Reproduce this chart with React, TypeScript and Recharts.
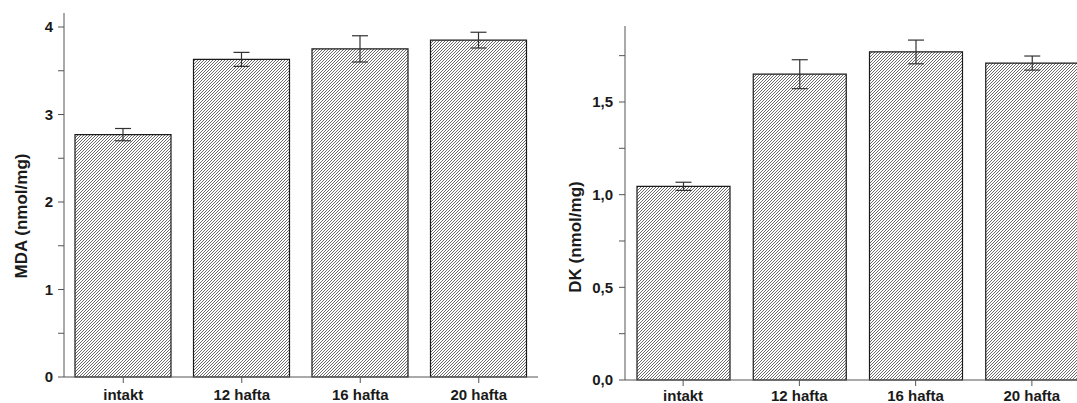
import { BarChart, Bar, XAxis, YAxis, ErrorBar } from 'recharts'

const categories = ['intakt', '12 hafta', '16 hafta', '20 hafta']

const mdaValues = [2.77, 3.63, 3.75, 3.85]
const mdaErrors = [0.07, 0.08, 0.15, 0.09]
const mdaTicks = [0, 0.5, 1, 1.5, 2, 2.5, 3, 3.5, 4]
const mdaLabels = [0, 1, 2, 3, 4]

const dkValues = [1.045, 1.65, 1.77, 1.71]
const dkErrors = [0.022, 0.078, 0.064, 0.038]
const dkTicks = [0, 0.25, 0.5, 0.75, 1, 1.25, 1.5, 1.75]
const dkLabels = [0, 0.5, 1, 1.5]

const mdaData = categories.map((name, i) => ({ name, value: mdaValues[i], err: mdaErrors[i] }))
const dkData = categories.map((name, i) => ({ name, value: dkValues[i], err: dkErrors[i] }))

const FONT = '"Liberation Sans", Arial, sans-serif'
const AXIS = '#555'
const INK = '#1a1a1a'

function Hatch({ id }: { id: string }) {
  return (
    <defs>
      <pattern id={id} patternUnits="userSpaceOnUse" width={3} height={3}>
        <rect width={3} height={3} fill="#fff" />
        <path d="M0,3 L3,0 M-1,1 L1,-1 M2,4 L4,2" stroke="#3c3c3c" strokeWidth={0.75} />
      </pattern>
    </defs>
  )
}

function makeYTick(labels: number[], comma: boolean) {
  return (props: any) => {
    const { x, y, payload } = props
    if (!labels.includes(payload.value)) return <g />
    const txt = comma ? payload.value.toFixed(1).replace('.', ',') : String(payload.value)
    return (
      <text x={x} y={y} dy="0.36em" textAnchor="end" fontFamily={FONT} fontWeight="bold" fontSize={15} fill={INK}>
        {txt}
      </text>
    )
  }
}

function XTick(props: any) {
  const { x, y, payload } = props
  return (
    <text x={x} y={y} dy="0.71em" textAnchor="middle" fontFamily={FONT} fontWeight="bold" fontSize={15} fill={INK}>
      {payload.value}
    </text>
  )
}

function AxisTitle(props: any) {
  const { viewBox, value, dx, dy } = props
  const vb = viewBox || { x: 0, y: 0, width: 0, height: 0 }
  const cx = vb.x + dx
  const cy = vb.y + vb.height / 2 + dy
  return (
    <text
      x={cx}
      y={cy}
      transform={`rotate(-90 ${cx} ${cy})`}
      textAnchor="middle"
      dominantBaseline="central"
      fontFamily={FONT}
      fontWeight="bold"
      fontSize={17}
      fill={INK}
    >
      {value}
    </text>
  )
}

export default function App() {
  return (
    <div
      style={{
        position: 'absolute',
        left: 0,
        top: 0,
        width: 1077,
        height: 403,
        overflow: 'hidden',
        background: '#fff',
      }}
    >
      <div style={{ position: 'absolute', left: 0, top: 0 }}>
        <BarChart width={540} height={403} data={mdaData} margin={{ top: 13, right: 2, left: 0, bottom: 0 }}>
          <Hatch id="hatchMda" />
          <XAxis
            xAxisId="minor"
            type="number"
            domain={[0, 4]}
            ticks={[1, 2, 3]}
            tick={false}
            axisLine={false}
            tickSize={4}
            height={0}
            stroke={AXIS}
          />
          <XAxis
            dataKey="name"
            height={26}
            tickSize={6}
            tickMargin={6}
            tick={<XTick />}
            stroke={AXIS}
            interval={0}
          />
          <YAxis
            width={64}
            domain={[0, 4.16]}
            ticks={mdaTicks}
            interval={0}
            tickSize={6}
            tickMargin={5}
            tick={makeYTick(mdaLabels, false)}
            stroke={AXIS}
            label={<AxisTitle value="MDA (nmol/mg)" dx={21} dy={21} />}
          />
          <Bar dataKey="value" fill="url(#hatchMda)" stroke={INK} strokeWidth={1.2} barSize={96} isAnimationActive={false}>
            <ErrorBar dataKey="err" width={8} stroke="#333" strokeWidth={1.2} />
          </Bar>
        </BarChart>
      </div>
      <div style={{ position: 'absolute', left: 540, top: 0 }}>
        <BarChart width={550} height={403} data={dkData} margin={{ top: 26, right: 0, left: 0, bottom: 0 }}>
          <Hatch id="hatchDk" />
          <XAxis
            xAxisId="minor"
            type="number"
            domain={[0, 4]}
            ticks={[1, 2, 3]}
            tick={false}
            axisLine={false}
            tickSize={4}
            height={0}
            stroke={AXIS}
          />
          <XAxis
            dataKey="name"
            height={23}
            tickSize={6}
            tickMargin={4}
            tick={<XTick />}
            stroke={AXIS}
            interval={0}
          />
          <YAxis
            width={85}
            domain={[0, 1.91]}
            ticks={dkTicks}
            interval={0}
            tickSize={6}
            tickMargin={6}
            tick={makeYTick(dkLabels, true)}
            stroke={AXIS}
            label={<AxisTitle value="DK (nmol/mg)" dx={35} dy={34} />}
          />
          <Bar dataKey="value" fill="url(#hatchDk)" stroke={INK} strokeWidth={1.2} barSize={93} isAnimationActive={false}>
            <ErrorBar dataKey="err" width={8} stroke="#333" strokeWidth={1.2} />
          </Bar>
        </BarChart>
      </div>
    </div>
  )
}
